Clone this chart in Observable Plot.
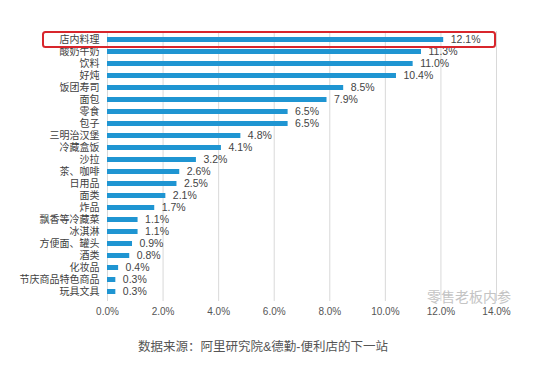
<!DOCTYPE html>
<html><head><meta charset="utf-8">
<script src="https://cdn.jsdelivr.net/npm/d3@7"></script>
<script src="https://cdn.jsdelivr.net/npm/@observablehq/plot@0.6"></script>
<style>
body{margin:0;background:#fff;font-family:"Liberation Sans","Noto Sans CJK SC",sans-serif;}
#wrap{position:relative;width:534px;height:365px;}
#caption{position:absolute;left:0;width:526px;top:336px;text-align:center;font-size:12.5px;color:#555;}
#wm{position:absolute;left:427px;top:286px;font-size:14px;color:#c4c4c4;}
</style></head>
<body><div id="wrap"><div id="chart"></div><div id="wm">零售老板内参</div><div id="caption">数据来源：阿里研究院&amp;德勤-便利店的下一站</div></div>
<script>
const categories = ["店内料理","酸奶牛奶","饮料","好炖","饭团寿司","面包","零食","包子","三明治汉堡","冷藏盒饭","沙拉","茶、咖啡","日用品","面类","炸品","飘香等冷藏菜","冰淇淋","方便面、罐头","酒类","化妆品","节庆商品特色商品","玩具文具"];
const values = [12.1,11.3,11.0,10.4,8.5,7.9,6.5,6.5,4.8,4.1,3.2,2.6,2.5,2.1,1.7,1.1,1.1,0.9,0.8,0.4,0.3,0.3];
const xTicks = [0,2,4,6,8,10,12,14];
const highlighted = "店内料理";

const data = categories.map((c,i)=>({cat:c, v:values[i]}));

const highlightBox = (index, scales, vals, dims) => {
  const y = scales.y(highlighted) + scales.y.bandwidth()/2;
  const ns = "http://www.w3.org/2000/svg";
  const r = document.createElementNS(ns, "rect");
  r.setAttribute("x", 43);
  r.setAttribute("y", y - 7.5);
  r.setAttribute("width", scales.x(14) - 1 - 43);
  r.setAttribute("height", 15);
  r.setAttribute("rx", 2.5);
  r.setAttribute("fill", "none");
  r.setAttribute("stroke", "#d8262c");
  r.setAttribute("stroke-width", 2);
  return r;
};

const chart = Plot.plot({
  width: 534, height: 325,
  marginLeft: 107, marginRight: 38, marginTop: 31, marginBottom: 24,
  style: {fontFamily: '"Liberation Sans","Noto Sans CJK SC",sans-serif', background: "transparent"},
  x: {domain: [0,14], ticks: xTicks, tickFormat: d => d.toFixed(1) + "%", tickSize: 0, tickPadding: 6, label: null},
  y: {domain: categories, paddingInner: 0.55, paddingOuter: 0.275, tickSize: 0, tickPadding: 8, label: null},
  marks: [
    Plot.gridX(xTicks, {stroke: "#d9d9d9", strokeOpacity: 1}),
    Plot.barX(data, {x: "v", y: "cat", fill: "#1f95d2"}),
    Plot.text(data, {x: "v", y: "cat", text: d => d.v.toFixed(1) + "%", textAnchor: "start", dx: 7, fill: "#444", fontSize: 10.5}),
    Plot.axisY({tickSize: 0, tickPadding: 8, fontSize: 10, color: "#404040"}),
    Plot.axisX({ticks: xTicks, tickFormat: d => d.toFixed(1) + "%", tickSize: 0, tickPadding: 6, fontSize: 10, color: "#555"}),
    highlightBox
  ]
});
document.getElementById("chart").appendChild(chart);
</script>
</body></html>
